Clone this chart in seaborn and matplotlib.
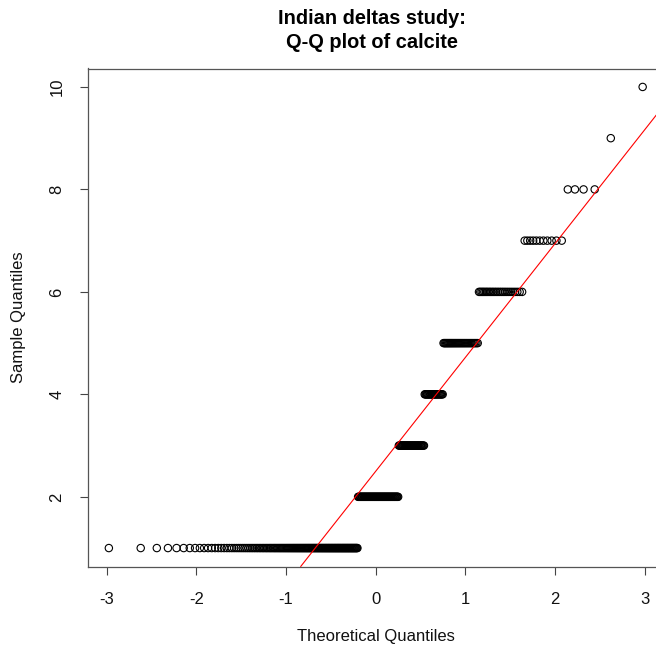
import numpy as np
import pandas as pd
import matplotlib
matplotlib.use("Agg")
import matplotlib.pyplot as plt
import seaborn as sns
from statistics import NormalDist

# Data: calcite sample values and how many observations share each value
calcite_values = [1, 2, 3, 4, 5, 6, 7, 8, 9, 10]
calcite_counts = [143, 61, 36, 23, 34, 26, 11, 4, 1, 1]
x_ticks = [-3, -2, -1, 0, 1, 2, 3]
y_ticks = [2, 4, 6, 8, 10]
title_lines = ["Indian deltas study:", "Q-Q plot of calcite"]
x_label = "Theoretical Quantiles"
y_label = "Sample Quantiles"

sns.set_style("white")
plt.rcParams['font.family'] = ['Liberation Sans', 'DejaVu Sans']
plt.rcParams['text.color'] = 'black'

sample = np.sort(np.repeat(calcite_values, calcite_counts)).astype(float)
n = len(sample)
nd = NormalDist()
theo = np.array([nd.inv_cdf((i - 0.5) / n) for i in range(1, n + 1)])
df = pd.DataFrame({"theoretical": theo, "sample": sample})

W, H = 656, 649
fig = plt.figure(figsize=(W / 100, H / 100), dpi=100)
left_px, right_px, top_px, bottom_px = 87.5, 664.0, 68.5, 566.5
ax = fig.add_axes([left_px / W, 1 - bottom_px / H,
                   (right_px - left_px) / W, (bottom_px - top_px) / H])

sns.scatterplot(data=df, x="theoretical", y="sample", ax=ax,
                marker="o", s=28, facecolor="none", edgecolor="black",
                linewidth=0.8, legend=False, zorder=3)

# qqline through the quartiles
q1, q3 = np.quantile(sample, [0.25, 0.75])
z1, z3 = nd.inv_cdf(0.25), nd.inv_cdf(0.75)
slope = (q3 - q1) / (z3 - z1)
ax.axline((z1, q1), slope=slope, color="red", linewidth=0.8, zorder=4)

xr = theo.max() - theo.min()
ax.set_xlim(theo.min() - 0.04 * xr, theo.max() + 0.04 * xr)
yr = sample.max() - sample.min()
ax.set_ylim(sample.min() - 0.04 * yr, sample.max() + 0.04 * yr)

ax.set_xticks(x_ticks)
ax.set_xticklabels([str(t) for t in x_ticks])
ax.set_yticks(y_ticks)
ax.set_yticklabels([str(t) for t in y_ticks])
ax.tick_params(axis='both', which='major', bottom=True, left=True,
               direction='out', length=5.5, width=0.8,
               color='#444444', labelsize=12, labelcolor='#111111')
ax.tick_params(axis='x', pad=12.5)
ax.tick_params(axis='y', pad=11)
for lab in ax.get_yticklabels():
    lab.set_rotation(90)
    lab.set_va('center')
    lab.set_ha('right')

for sp in ax.spines.values():
    sp.set_visible(True)
    sp.set_color('#555555')
    sp.set_linewidth(0.9)

ax.set_xlabel("")
ax.set_ylabel("")
fig.text(376 / W, 1 - 636 / H, x_label, ha='center', va='center',
         fontsize=12, color='#111111')
fig.text(19 / W, 1 - 317 / H, y_label, ha='center', va='center',
         rotation=90, fontsize=12, color='#111111')
fig.text(372 / W, 1 - 18 / H, title_lines[0], ha='center', va='center',
         fontsize=14.4, fontweight='bold', color='black')
fig.text(372 / W, 1 - 42 / H, title_lines[1], ha='center', va='center',
         fontsize=14.4, fontweight='bold', color='black')

fig.savefig("out.png", dpi=100)
